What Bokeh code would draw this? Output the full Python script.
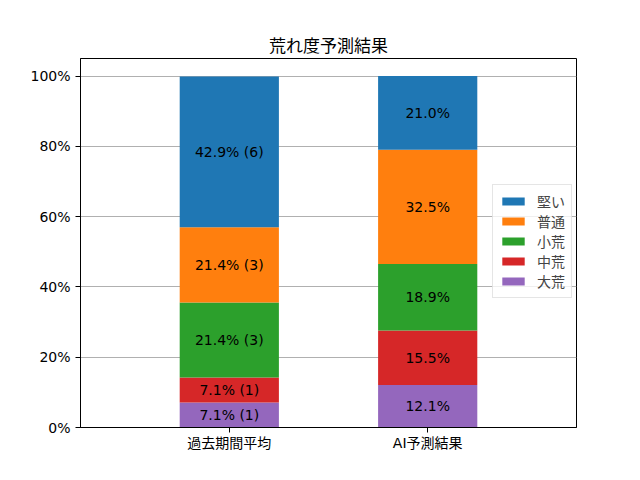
from bokeh.plotting import figure
from bokeh.models import (Range1d, FixedTicker, PrintfTickFormatter, Legend, LegendItem,
                          ColumnDataSource)
from bokeh.core.properties import value
from bokeh.embed import file_html
from bokeh.resources import INLINE

categories = ["過去期間平均", "AI予測結果"]
levels = ["大荒", "中荒", "小荒", "普通", "堅い"]
colors = ["#9467bd", "#d62728", "#2ca02c", "#ff7f0e", "#1f77b4"]
past_pct = [7.1, 7.1, 21.4, 21.4, 42.9]
past_cnt = [1, 1, 3, 3, 6]
ai_pct = [12.1, 15.5, 18.9, 32.5, 21.0]
y_ticks = [0, 20, 40, 60, 80, 100]

FONT = "DejaVu Sans, Noto Sans CJK JP"

p = figure(width=624, height=464, output_backend="svg", toolbar_location=None,
           x_range=Range1d(-0.75, 1.75), y_range=Range1d(0, 105),
           min_border_left=80, min_border_right=48, min_border_top=58, min_border_bottom=37)

p.title.text = "荒れ度予測結果"
p.title.align = "center"
p.title.text_font = FONT
p.title.text_font_size = "17px"
p.title.text_font_style = "normal"
p.title.text_color = "black"
p.title.standoff = 6

xs = [0, 1]
data = {"x": xs}
for i, lv in enumerate(levels):
    data[lv] = [past_pct[i], ai_pct[i]]
src = ColumnDataSource(data)
renderers = p.vbar_stack(levels, x="x", width=0.5, source=src, color=colors, line_color=None)

# labels
lx, ly, lt = [], [], []
for ci, vals in enumerate([past_pct, ai_pct]):
    base = 0.0
    for i, v in enumerate(vals):
        lx.append(xs[ci])
        ly.append(base + v / 2)
        if ci == 0:
            lt.append(f"{v:.1f}% ({past_cnt[i]})")
        else:
            lt.append(f"{v:.1f}%")
        base += v
p.text(x=lx, y=ly, text=lt, text_align="center", text_baseline="middle",
       text_font=value(FONT), text_font_size="14px", text_color="black")

legend = Legend(items=[LegendItem(label=levels[i], renderers=[renderers[i]]) for i in reversed(range(5))],
                location=(412, 129))
legend.label_text_font = FONT
legend.label_text_font_size = "14px"
legend.glyph_width = 28
legend.glyph_height = 10
legend.label_height = 16
legend.label_standoff = 10
legend.spacing = 0
legend.padding = 6
legend.margin = 0
legend.border_line_color = "#cccccc"
legend.background_fill_alpha = 0.8
p.add_layout(legend)

p.xaxis.ticker = FixedTicker(ticks=xs)
p.xaxis.major_label_overrides = {0: categories[0], 1: categories[1]}
p.xaxis.major_label_standoff = 2
p.yaxis.ticker = FixedTicker(ticks=y_ticks)
p.yaxis.formatter = PrintfTickFormatter(format="%d%%")
for ax in (p.xaxis, p.yaxis):
    ax.major_label_text_font = FONT
    ax.major_label_text_font_size = "14px"
    ax.major_label_text_color = "black"
    ax.axis_line_color = "black"
    ax.major_tick_line_color = "black"
    ax.major_tick_out = 5
    ax.major_tick_in = 0
    ax.minor_tick_line_color = None
p.xgrid.grid_line_color = None
p.ygrid.grid_line_color = "#b0b0b0"
p.ygrid.grid_line_width = 1
p.outline_line_color = "black"
p.outline_line_alpha = 1
p.background_fill_color = "white"

open("out.html", "w").write(file_html(p, INLINE))
